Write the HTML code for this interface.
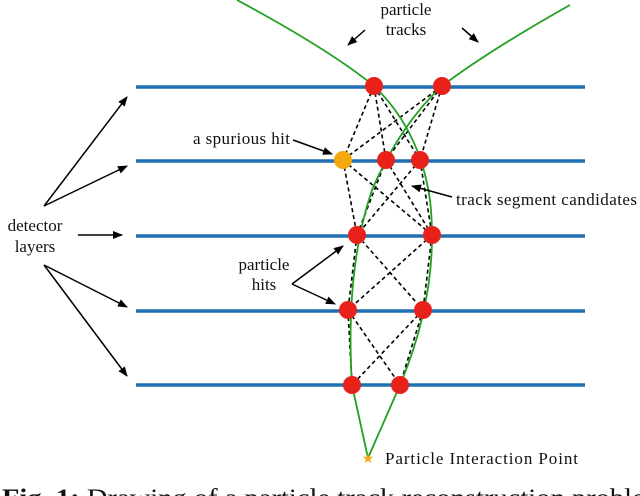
<!DOCTYPE html>
<html><head><style>
html,body{margin:0;padding:0;background:#fff;width:640px;height:496px;overflow:hidden}
svg{display:block}
text{font-family:"Liberation Serif",serif;fill:#111}
</style></head><body>
<svg width="640" height="496" viewBox="0 0 640 496" xmlns="http://www.w3.org/2000/svg">
<defs><marker id="a" markerWidth="10" markerHeight="8" refX="9" refY="4" orient="auto" markerUnits="userSpaceOnUse"><path d="M0,0 L10,4 L0,8 Z" fill="#000"/></marker></defs>
<g stroke="#1f6fb2" stroke-width="3.5">
<line x1="136" y1="87" x2="585" y2="87"/>
<line x1="136" y1="161" x2="585" y2="161"/>
<line x1="136" y1="236" x2="585" y2="236"/>
<line x1="136" y1="311" x2="585" y2="311"/>
<line x1="136" y1="385" x2="585" y2="385"/>
</g>
<g stroke="#000" stroke-width="1.6" stroke-dasharray="4,3" fill="none">
<path d="M374,86L343,160M374,86L386,160M374,86L420,160M442,86L343,160M442,86L386,160M442,86L420,160"/>
<path d="M343,160L357,235M343,160L432,235M386,160L357,235M386,160L432,235M420,160L357,235M420,160L432,235"/>
<path d="M357,235L348,310M357,235L423,310M432,235L348,310M432,235L423,310"/>
<path d="M348,310L352,385M348,310L400,385M423,310L352,385M423,310L400,385"/>
</g>
<g stroke="#22a022" stroke-width="1.8" fill="none">
<path d="M237,0 Q330,50 374,86 Q420,130 430,200 Q440,290 400,385 L368,458"/>
<path d="M570,5 Q490,50 442,86 Q400,125 372,190 Q345,270 352,385 L368,458"/>
</g>
<g fill="#e8221a">
<circle cx="374" cy="86" r="9"/><circle cx="442" cy="86" r="9"/>
<circle cx="386" cy="160" r="9"/><circle cx="420" cy="160" r="9"/>
<circle cx="357" cy="235" r="9"/><circle cx="432" cy="235" r="9"/>
<circle cx="348" cy="310" r="9"/><circle cx="423" cy="310" r="9"/>
<circle cx="352" cy="385" r="9"/><circle cx="400" cy="385" r="9"/>
</g>
<circle cx="343" cy="160" r="9" fill="#f5a70e"/>
<text x="368" y="463" font-size="14" text-anchor="middle" style="fill:#f5a70e">★</text>
<g stroke="#000" stroke-width="1.5" marker-end="url(#a)">
<line x1="365" y1="30" x2="348" y2="45"/>
<line x1="462" y1="28" x2="478" y2="42"/>
<line x1="44" y1="206" x2="127" y2="97"/>
<line x1="44" y1="206" x2="127" y2="166"/>
<line x1="78" y1="235" x2="122" y2="235"/>
<line x1="44" y1="265" x2="127" y2="307"/>
<line x1="44" y1="265" x2="127" y2="376"/>
<line x1="292" y1="284" x2="343" y2="246"/>
<line x1="292" y1="284" x2="335" y2="304"/>
<line x1="293" y1="140" x2="332" y2="154"/>
<line x1="452" y1="197" x2="412" y2="186"/>
</g>
<g font-size="17">
<text x="406" y="15" text-anchor="middle">particle</text>
<text x="406" y="35" text-anchor="middle">tracks</text>
<text x="193" y="144" textLength="97">a spurious hit</text>
<text x="456" y="205" textLength="181">track segment candidates</text>
<text x="35" y="231" text-anchor="middle">detector</text>
<text x="35" y="252" text-anchor="middle">layers</text>
<text x="264" y="270" text-anchor="middle">particle</text>
<text x="264" y="290" text-anchor="middle">hits</text>
<text x="385" y="464" textLength="193">Particle Interaction Point</text>
</g>
<text x="2" y="506" font-size="25" textLength="665" lengthAdjust="spacingAndGlyphs"><tspan font-weight="bold">Fig. 1:</tspan> Drawing of a particle track reconstruction problem</text>
</svg>
</body></html>
